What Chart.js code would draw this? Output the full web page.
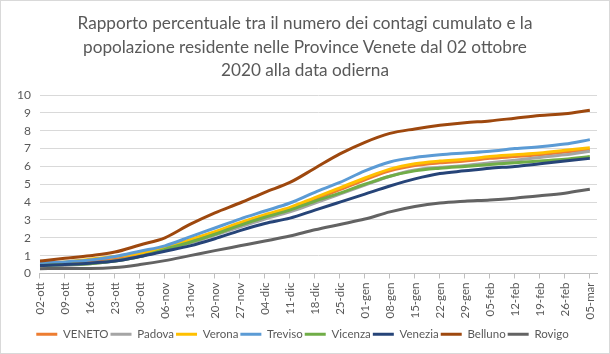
<!DOCTYPE html>
<html>
<head>
<meta charset="utf-8">
<script src="https://cdn.jsdelivr.net/npm/chart.js@4.4.1/dist/chart.umd.min.js"></script>
<style>
  html, body { margin: 0; padding: 0; background: #fff; }
  #wrap { position: relative; width: 608px; height: 352px; border: 1px solid #d9d9d9; }
  #title { position: absolute; left: 0; top: 10px; width: 608px; text-align: center;
           font-family: Lato, "Open Sans", sans-serif; font-size: 17.2px; line-height: 23.5px; color: #595959; }
  canvas { position: absolute; left: 0; top: 0; }
</style>
</head>
<body>
<div id="wrap"><canvas id="c" width="608" height="352"></canvas><div id="title"></div></div>
<script>
const titleLines = ['Rapporto percentuale tra il numero dei contagi cumulato e la',
                    'popolazione residente nelle Province Venete dal 02 ottobre',
                    '2020 alla data odierna'];
// Weekly tick labels (one every 7 days, from 02-ott-2020 to 05-mar-2021)
const tickLabels = ['02-ott','09-ott','16-ott','23-ott','30-ott','06-nov','13-nov','20-nov','27-nov',
  '04-dic','11-dic','18-dic','25-dic','01-gen','08-gen','15-gen','22-gen','29-gen',
  '05-feb','12-feb','19-feb','26-feb','05-mar'];
// Day offset of each weekly reading from 02-ott
const dayOffsets = [0,7,14,21,28,35,42,49,56,63,70,77,84,91,98,105,112,119,126,133,140,147,154];

// Values (%) read at each weekly label
const veneto  = [0.50,0.55,0.65,0.80,1.05,1.40,1.85,2.30,2.75,3.20,3.60,4.15,4.70,5.25,5.75,6.05,6.20,6.30,6.45,6.55,6.65,6.80,6.95];
const padova  = [0.40,0.45,0.55,0.70,0.95,1.30,1.70,2.15,2.60,3.05,3.45,3.95,4.45,4.95,5.45,5.80,5.95,6.05,6.20,6.35,6.50,6.65,6.85];
const verona  = [0.55,0.65,0.80,0.95,1.15,1.45,1.90,2.35,2.85,3.30,3.70,4.25,4.80,5.35,5.85,6.15,6.30,6.40,6.55,6.65,6.75,6.90,7.05];
const treviso = [0.60,0.65,0.75,0.95,1.25,1.55,2.05,2.55,3.05,3.50,3.95,4.55,5.10,5.75,6.25,6.50,6.65,6.75,6.85,7.00,7.10,7.25,7.50];
const vicenza = [0.45,0.50,0.55,0.70,0.95,1.35,1.75,2.20,2.70,3.15,3.55,4.05,4.50,5.00,5.45,5.75,5.90,6.00,6.10,6.20,6.30,6.40,6.55];
const venezia = [0.45,0.50,0.58,0.70,0.95,1.25,1.55,1.95,2.40,2.80,3.10,3.55,4.00,4.45,4.90,5.30,5.60,5.75,5.90,6.00,6.15,6.30,6.45];
const belluno = [0.70,0.85,1.00,1.20,1.60,2.00,2.75,3.40,3.95,4.55,5.10,5.90,6.70,7.35,7.85,8.10,8.30,8.45,8.55,8.70,8.85,8.95,9.15];
const rovigo  = [0.27,0.28,0.28,0.33,0.50,0.72,1.00,1.28,1.55,1.82,2.10,2.45,2.75,3.05,3.45,3.75,3.95,4.05,4.12,4.22,4.35,4.50,4.72];

const seriesNames  = ['VENETO','Padova','Verona','Treviso','Vicenza','Venezia','Belluno','Rovigo'];
const seriesValues = [veneto, padova, verona, treviso, vicenza, venezia, belluno, rovigo];
const seriesColors = ['#ED7D31','#A5A5A5','#FFC000','#5B9BD5','#70AD47','#264478','#9E480E','#636363'];

const FONT = 'Lato, "Open Sans", sans-serif';
const TXT = '#595959';

document.getElementById('title').innerHTML = titleLines.map(t => '<div>' + t + '</div>').join('');

const datasets = seriesNames.map((name, i) => ({
  label: name,
  data: seriesValues[i].map((v, k) => ({ x: dayOffsets[k], y: v })),
  borderColor: seriesColors[i],
  backgroundColor: seriesColors[i],
  borderWidth: 3,
  pointRadius: 0,
  pointStyle: 'line',
  cubicInterpolationMode: 'monotone',
  fill: false,
  order: seriesNames.length - i
}));

new Chart(document.getElementById('c'), {
  type: 'line',
  data: { datasets },
  options: {
    responsive: false,
    animation: false,
    layout: { padding: { left: 7, right: 12, top: 94, bottom: 3 } },
    plugins: {
      title: { display: false },
      legend: {
        position: 'bottom',
        labels: {
          color: TXT,
          font: { family: FONT, size: 11.5 },
          usePointStyle: true,
          pointStyleWidth: 21,
          padding: 2,
          sort: (a, b) => a.datasetIndex - b.datasetIndex
        }
      },
      tooltip: { enabled: false }
    },
    scales: {
      x: {
        type: 'linear',
        min: 0,
        max: 156,
        afterFit: (scale) => { scale.height = 53; },
        ticks: {
          stepSize: 7,
          includeBounds: false,
          autoSkip: false,
          minRotation: 90,
          maxRotation: 90,
          padding: 4,
          color: TXT,
          font: { family: FONT, size: 11.5 },
          callback: (v) => { const k = dayOffsets.indexOf(v); return k >= 0 ? tickLabels[k] : ''; }
        },
        grid: { drawOnChartArea: false, drawTicks: true, tickLength: 5, color: '#BFBFBF' },
        border: { color: '#BFBFBF' }
      },
      y: {
        min: 0,
        max: 10,
        ticks: { stepSize: 1, autoSkip: false, color: TXT, font: { family: FONT, size: 12 }, padding: 9 },
        grid: { color: '#D9D9D9', drawTicks: false },
        border: { display: false }
      }
    }
  }
});
</script>
</body>
</html>
